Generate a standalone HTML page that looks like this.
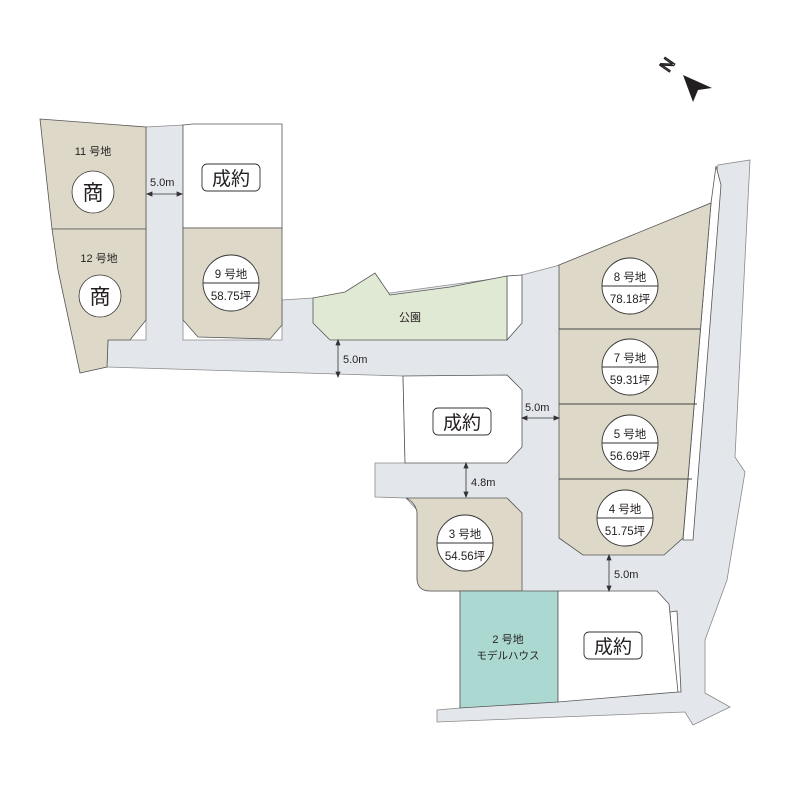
<!DOCTYPE html>
<html><head><meta charset="utf-8"><style>
html,body{margin:0;padding:0;background:#fff}
svg{display:block}
text{font-family:"Liberation Sans","Noto Sans CJK JP",sans-serif;fill:#231f20}
</style></head><body>
<svg width="800" height="800" viewBox="0 0 800 800" xmlns="http://www.w3.org/2000/svg">
<!-- road -->
<polygon fill="#e3e7eb" stroke="#8a8a8a" stroke-width="0.8" points="108,340 146,340 146,127 183,125 183,340 282,340 282,300 313,298 390,293 522,275 560,265 711,203 718,165 750,160 735,457 745,472 727,580 705,640 705,693 730,707 693,725 685,712 437,722 437,710 460,708 460,591 430,591 417,580 417,510 406,498 375,497 375,463 405,463 403,376 107,367"/>
<!-- white strips -->
<polygon fill="#fff" stroke="#555" stroke-width="0.8" points="711,203 716,166 721,185 693,540 683,540"/>
<polygon fill="#fff" stroke="#555" stroke-width="0.8" points="670,612 677,611 681,692 676,692"/>
<!-- lot 11 -->
<polygon fill="#ddd8c7" stroke="#555" stroke-width="0.8" points="40,119 146,127 146,229 52,229"/>
<!-- lot 12 -->
<polygon fill="#ddd8c7" stroke="#555" stroke-width="0.8" points="52,229 146,229 146,320 130,340 108,340 107,367 80,373 58,270"/>
<!-- sold north -->
<polygon fill="#fff" stroke="#555" stroke-width="0.8" points="183,125 193,124 282,124 282,228 183,228"/>
<!-- lot 9 -->
<polygon fill="#ddd8c7" stroke="#555" stroke-width="0.8" points="183,228 282,228 282,325 270,339 198,337 183,320"/>
<!-- park + white -->
<polygon fill="#fff" stroke="#555" stroke-width="0.8" points="507,276 522,275 522,323 507,340"/>
<polygon fill="#dfe9d3" stroke="#555" stroke-width="0.8" points="313,298 345,292 375,273 390,295 450,287 507,276 507,340 330,340 313,323"/>
<!-- center sold -->
<polygon fill="#fff" stroke="#555" stroke-width="0.8" points="403,376 507,375 522,390 522,447 507,463 405,463"/>
<!-- lot 3 -->
<path fill="#ddd8c7" stroke="#555" stroke-width="0.8" d="M406,498 L507,498 L522,513 L522,591 L430,591 Q417,591 417,578 L417,512 Q415,502 406,498 Z"/>
<!-- lots 8-4 -->
<polygon fill="#ddd8c7" stroke="#555" stroke-width="0.8" points="559,265 711,203 683,538 664,555 583,555 559,538"/>
<line x1="559" y1="329" x2="700" y2="329" stroke="#444" stroke-width="0.9"/>
<line x1="559" y1="404" x2="697" y2="404" stroke="#444" stroke-width="0.9"/>
<line x1="559" y1="479" x2="692" y2="479" stroke="#444" stroke-width="0.9"/>
<!-- lot 2 -->
<polygon fill="#acd8d2" stroke="#555" stroke-width="0.8" points="460,591 558,591 558,702 460,708"/>
<!-- sold south -->
<polygon fill="#fff" stroke="#555" stroke-width="0.8" points="558,591 657,591 669,604 678,692 558,702"/>

<!-- dimension arrows -->
<g stroke="#333" stroke-width="0.8" fill="#333">
<line x1="149" y1="194" x2="180" y2="194"/><polygon points="147,194 152,192 152,196"/><polygon points="182,194 177,192 177,196"/>
<line x1="338" y1="342" x2="338" y2="375"/><polygon points="338,340 336,345 340,345"/><polygon points="338,377 336,372 340,372"/>
<line x1="524" y1="418" x2="557" y2="418"/><polygon points="522,418 527,416 527,420"/><polygon points="559,418 554,416 554,420"/>
<line x1="466" y1="465" x2="466" y2="495"/><polygon points="466,463 464,468 468,468"/><polygon points="466,497 464,492 468,492"/>
<line x1="609" y1="557" x2="609" y2="589"/><polygon points="609,555 607,560 611,560"/><polygon points="609,591 607,586 611,586"/>
</g>
<g font-size="11">
<text x="150" y="186">5.0m</text>
<text x="343" y="363">5.0m</text>
<text x="525" y="411">5.0m</text>
<text x="471" y="486">4.8m</text>
<text x="614" y="578">5.0m</text>
</g>

<!-- labels -->
<text x="93" y="155" font-size="11" text-anchor="middle">11 号地</text>
<circle cx="93" cy="192" r="21" fill="#fff" stroke="#333" stroke-width="0.8"/>
<text x="93" y="200" font-size="21" text-anchor="middle">商</text>
<text x="99" y="262" font-size="11" text-anchor="middle">12 号地</text>
<circle cx="100" cy="296" r="21" fill="#fff" stroke="#333" stroke-width="0.8"/>
<text x="100" y="304" font-size="21" text-anchor="middle">商</text>

<g fill="#fff" stroke="#333" stroke-width="0.9">
<rect x="202" y="164" width="58" height="27" rx="5"/>
<rect x="433" y="408" width="58" height="27" rx="5"/>
<rect x="584" y="632" width="58" height="27" rx="5"/>
</g>
<text x="231" y="185" font-size="19" text-anchor="middle">成約</text>
<text x="462" y="429" font-size="19" text-anchor="middle">成約</text>
<text x="613" y="653" font-size="19" text-anchor="middle">成約</text>

<text x="410" y="321" font-size="11" text-anchor="middle">公園</text>
<text x="508" y="643" font-size="11" text-anchor="middle">2 号地</text>
<text x="508" y="659" font-size="10.5" text-anchor="middle">モデルハウス</text>

<g stroke="#333" stroke-width="0.9">
<circle cx="231" cy="283" r="28" fill="#fff"/><line x1="203" y1="283" x2="259" y2="283"/>
<circle cx="630" cy="286" r="28" fill="#fff"/><line x1="602" y1="286" x2="658" y2="286"/>
<circle cx="630" cy="367" r="28" fill="#fff"/><line x1="602" y1="367" x2="658" y2="367"/>
<circle cx="630" cy="443" r="28" fill="#fff"/><line x1="602" y1="443" x2="658" y2="443"/>
<circle cx="625" cy="518" r="28" fill="#fff"/><line x1="597" y1="518" x2="653" y2="518"/>
<circle cx="465" cy="543" r="28" fill="#fff"/><line x1="437" y1="543" x2="493" y2="543"/>
</g>
<g font-size="11.5" text-anchor="middle">
<text x="231" y="278">9 号地</text><text x="231" y="300">58.75坪</text>
<text x="630" y="281">8 号地</text><text x="630" y="303">78.18坪</text>
<text x="630" y="362">7 号地</text><text x="630" y="384">59.31坪</text>
<text x="630" y="438">5 号地</text><text x="630" y="460">56.69坪</text>
<text x="625" y="513">4 号地</text><text x="625" y="535">51.75坪</text>
<text x="465" y="538">3 号地</text><text x="465" y="560">54.56坪</text>
</g>

<!-- north -->
<text x="0" y="0" font-size="17" text-anchor="middle" transform="translate(672,68) rotate(-55)" style="fill:none;stroke:#231f20;stroke-width:1.3">N</text>
<polygon fill="#231f20" points="683,75 712,88 698,90 693,102"/>
</svg>
</body></html>
